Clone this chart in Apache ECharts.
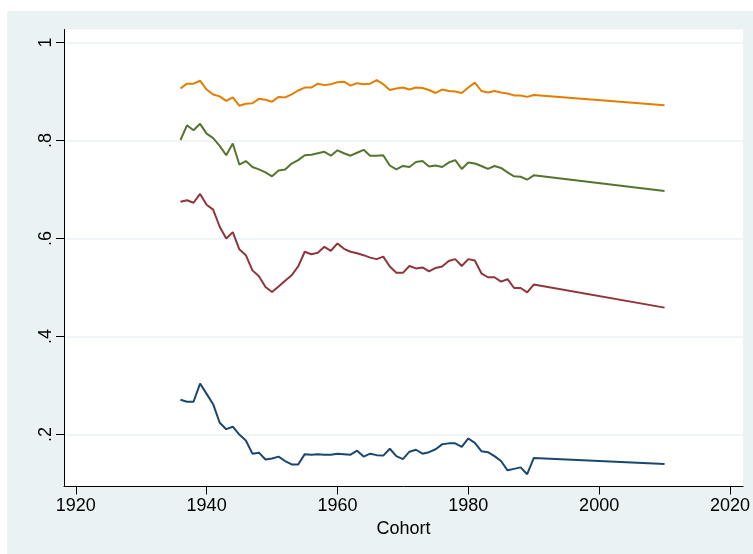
<!DOCTYPE html>
<html>
<head>
<meta charset="utf-8">
<script src="https://cdn.jsdelivr.net/npm/echarts@6/dist/echarts.min.js"></script>
<style>
  html, body { margin: 0; padding: 0; background: #fff; }
  #panel { position: absolute; left: 7px; top: 11px; width: 746px; height: 543px; background: #eaf2f3; }
  #main { position: absolute; left: 0; top: 0; width: 753px; height: 554px; }
</style>
</head>
<body>
<div id="panel"></div>
<div id="main"></div>
<script>
// cohort years
const cohorts = [
  1936, 1937, 1938, 1939, 1940, 1941, 1942, 1943, 1944, 1945,
  1946, 1947, 1948, 1949, 1950, 1951, 1952, 1953, 1954, 1955,
  1956, 1957, 1958, 1959, 1960, 1961, 1962, 1963, 1964, 1965,
  1966, 1967, 1968, 1969, 1970, 1971, 1972, 1973, 1974, 1975,
  1976, 1977, 1978, 1979, 1980, 1981, 1982, 1983, 1984, 1985,
  1986, 1987, 1988, 1989, 1990, 2010
]

const orangeVals = [
  0.906, 0.916, 0.916, 0.922, 0.904, 0.894, 0.890, 0.881, 0.888, 0.871,
  0.875, 0.876, 0.885, 0.883, 0.879, 0.889, 0.888, 0.894, 0.902, 0.908,
  0.908, 0.916, 0.913, 0.915, 0.919, 0.920, 0.912, 0.917, 0.915, 0.916,
  0.923, 0.915, 0.903, 0.906, 0.908, 0.904, 0.908, 0.907, 0.903, 0.897,
  0.904, 0.901, 0.900, 0.897, 0.908, 0.918, 0.901, 0.898, 0.901, 0.898,
  0.896, 0.892, 0.892, 0.889, 0.893, 0.872
]

const greenVals = [
  0.801, 0.831, 0.821, 0.834, 0.814, 0.805, 0.789, 0.770, 0.794, 0.751,
  0.758, 0.746, 0.741, 0.735, 0.727, 0.739, 0.741, 0.753, 0.760, 0.770,
  0.771, 0.774, 0.777, 0.769, 0.780, 0.774, 0.769, 0.775, 0.781, 0.769,
  0.769, 0.770, 0.749, 0.741, 0.748, 0.746, 0.756, 0.758, 0.747, 0.749,
  0.746, 0.755, 0.760, 0.742, 0.755, 0.753, 0.748, 0.742, 0.748, 0.744,
  0.735, 0.727, 0.726, 0.720, 0.729, 0.697
]

const redVals = [
  0.675, 0.678, 0.673, 0.691, 0.669, 0.659, 0.624, 0.600, 0.613, 0.578,
  0.566, 0.535, 0.523, 0.501, 0.491, 0.502, 0.514, 0.525, 0.543, 0.573,
  0.568, 0.571, 0.583, 0.575, 0.590, 0.579, 0.573, 0.570, 0.566, 0.561,
  0.558, 0.563, 0.543, 0.530, 0.530, 0.544, 0.539, 0.541, 0.533, 0.540,
  0.543, 0.554, 0.558, 0.544, 0.558, 0.555, 0.529, 0.521, 0.521, 0.512,
  0.517, 0.499, 0.499, 0.490, 0.506, 0.459
]

const blueVals = [
  0.271, 0.267, 0.267, 0.304, 0.283, 0.262, 0.224, 0.211, 0.216, 0.200,
  0.188, 0.161, 0.163, 0.149, 0.151, 0.155, 0.146, 0.139, 0.139, 0.160,
  0.159, 0.160, 0.159, 0.159, 0.161, 0.160, 0.159, 0.167, 0.155, 0.161,
  0.158, 0.157, 0.171, 0.156, 0.150, 0.165, 0.169, 0.161, 0.164, 0.170,
  0.180, 0.182, 0.182, 0.175, 0.192, 0.183, 0.166, 0.164, 0.156, 0.146,
  0.127, 0.130, 0.133, 0.119, 0.152, 0.140
]

// axis ticks
const xTicks = [1920, 1940, 1960, 1980, 2000, 2020]
const yTicks = [0.2, 0.4, 0.6, 0.8, 1]
const yTickLabels = ['.2', '.4', '.6', '.8', '1']

const seriesDefs = [
  { name: 'orange', color: '#e37e00', vals: orangeVals },
  { name: 'green', color: '#55752f', vals: greenVals },
  { name: 'red', color: '#90353b', vals: redVals },
  { name: 'blue', color: '#1a476f', vals: blueVals },
]

const font = '"Liberation Sans", Arial, Helvetica, sans-serif'

const myChart = echarts.init(document.getElementById('main'), null, { renderer: 'canvas' })

myChart.setOption({
  animation: false,
  backgroundColor: 'transparent',
  grid: {
    left: 64,
    right: 8,
    top: 29.5,
    bottom: 67.5,
    show: true,
    backgroundColor: '#ffffff',
    borderWidth: 0,
  },
  xAxis: {
    type: 'value',
    min: 1918.2,
    max: 2022,
    name: 'Cohort',
    nameLocation: 'middle',
    nameGap: 34,
    nameTextStyle: { color: '#000', fontSize: 18, fontFamily: font },
    axisLine: { show: true, onZero: false, lineStyle: { color: '#000', width: 1 } },
    axisTick: { show: true, length: 8, customValues: xTicks, lineStyle: { color: '#000' } },
    axisLabel: {
      customValues: xTicks,
      color: '#000',
      fontSize: 18,
      fontFamily: font,
      margin: 11,
      formatter: function (v) {
        return String(Math.round(v))
      },
    },
    splitLine: { show: false },
  },
  yAxis: {
    type: 'value',
    min: 0.094,
    max: 1.0265,
    axisLine: { show: true, onZero: false, lineStyle: { color: '#000', width: 1 } },
    axisTick: { show: true, length: 8, customValues: yTicks, lineStyle: { color: '#000' } },
    axisLabel: {
      customValues: yTicks,
      rotate: 90,
      color: '#000',
      fontSize: 18,
      fontFamily: font,
      margin: 9,
      formatter: function (v) {
        const i = yTicks.findIndex((t) => Math.abs(t - v) < 1e-6)
        return i >= 0 ? yTickLabels[i] : ''
      },
    },
    splitLine: { show: true, lineStyle: { color: '#eaf2f3', width: 1.5 } },
  },
  series: seriesDefs.map((s) => ({
    name: s.name,
    type: 'line',
    showSymbol: false,
    symbol: 'none',
    silent: true,
    lineStyle: { color: s.color, width: 2 },
    data: cohorts.map((c, i) => [c, s.vals[i]]),
  })),
})
</script>
</body>
</html>
